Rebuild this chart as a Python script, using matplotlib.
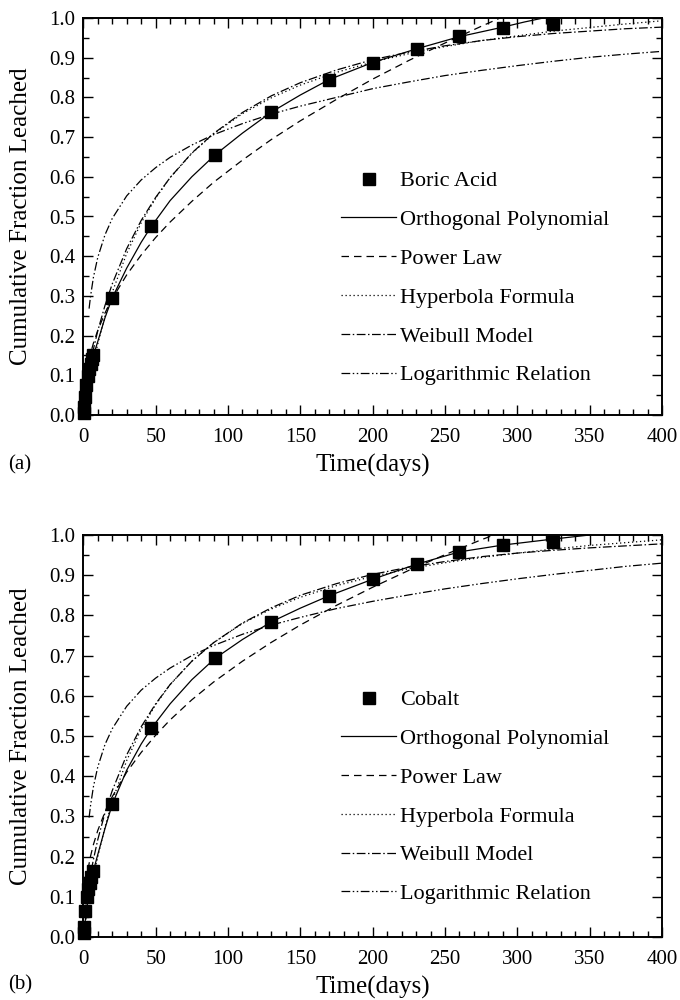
import matplotlib
matplotlib.use("Agg")
import matplotlib.pyplot as plt
from matplotlib.ticker import MultipleLocator, FormatStrFormatter

plt.rcParams['font.family'] = ['Liberation Serif', 'DejaVu Serif']

# ---------------- data: panel (a) Boric Acid ----------------
a_t = [0.3, 0.6, 1, 2, 3, 4, 5, 6, 7, 20, 47, 91, 130, 170, 200, 231, 260, 290, 325]
a_f = [0.005, 0.02, 0.045, 0.075, 0.097, 0.115, 0.128, 0.14, 0.15, 0.295, 0.475, 0.655,
       0.763, 0.843, 0.887, 0.923, 0.954, 0.975, 0.986]

a_poly_t = [0, 2, 4, 7, 10, 15, 20, 30, 40, 47, 60, 75, 91, 110, 130, 150, 170, 200, 231,
            260, 290, 305, 318, 330]
a_poly_f = [0.0, 0.05, 0.10, 0.15, 0.185, 0.245, 0.295, 0.37, 0.435, 0.475, 0.54, 0.60,
            0.655, 0.71, 0.763, 0.806, 0.845, 0.888, 0.923, 0.953, 0.977, 0.99, 1.0, 1.01]

grid_t = [1, 2, 3, 5, 7, 10, 15, 20, 30, 40, 50, 60, 75, 90, 110, 130, 150, 175, 200,
          225, 250, 275, 300, 325, 350, 375, 400]

a_power = [0.074, 0.102, 0.122, 0.155, 0.181, 0.213, 0.257, 0.293, 0.353, 0.403, 0.447,
           0.486, 0.538, 0.586, 0.642, 0.694, 0.741, 0.795, 0.846, 0.893, 0.937, 0.979,
           1.019, 1.05, 1.08, 1.11, 1.14]
a_hyper = [0.021, 0.041, 0.060, 0.097, 0.132, 0.179, 0.249, 0.309, 0.407, 0.484, 0.546,
           0.598, 0.659, 0.708, 0.759, 0.799, 0.831, 0.863, 0.889, 0.910, 0.928, 0.943,
           0.955, 0.967, 0.976, 0.985, 0.993]
a_weib = [0.041, 0.069, 0.092, 0.132, 0.166, 0.212, 0.276, 0.330, 0.419, 0.490, 0.548,
          0.598, 0.660, 0.709, 0.762, 0.804, 0.837, 0.869, 0.895, 0.914, 0.930, 0.943,
          0.953, 0.961, 0.967, 0.973, 0.977]
log_t = [4, 5, 7, 10, 15, 20, 30, 40, 50, 60, 75, 90, 110, 130, 150, 175, 200, 225, 250,
         275, 300, 325, 350, 375, 400]
a_log = [0.268, 0.299, 0.347, 0.397, 0.454, 0.495, 0.552, 0.592, 0.623, 0.649, 0.680,
         0.706, 0.734, 0.758, 0.778, 0.800, 0.822, 0.839, 0.855, 0.868, 0.880, 0.891,
         0.901, 0.909, 0.916]

# ---------------- data: panel (b) Cobalt ----------------
b_t = [0.3, 0.6, 1.5, 2.5, 3.5, 4.5, 5.5, 7, 20, 47, 91, 130, 170, 200, 231, 260, 290, 325]
b_f = [0.01, 0.025, 0.065, 0.10, 0.12, 0.135, 0.15, 0.165, 0.33, 0.519, 0.693, 0.784,
       0.849, 0.890, 0.928, 0.958, 0.975, 0.982]

b_poly_t = [0, 2, 4, 7, 10, 15, 20, 30, 40, 47, 60, 75, 91, 110, 130, 150, 170, 200, 231,
            260, 290, 325, 350, 360]
b_poly_f = [0.0, 0.06, 0.11, 0.165, 0.205, 0.27, 0.33, 0.415, 0.48, 0.519, 0.58, 0.64,
            0.693, 0.74, 0.784, 0.818, 0.849, 0.89, 0.928, 0.958, 0.975, 0.99, 1.0, 1.005]
b_power = [0.106, 0.140, 0.164, 0.201, 0.230, 0.265, 0.311, 0.349, 0.410, 0.459, 0.502,
           0.540, 0.590, 0.634, 0.686, 0.733, 0.776, 0.825, 0.870, 0.912, 0.951, 0.988,
           1.022, 1.05, 1.08, 1.11, 1.14]
b_hyper = [0.024, 0.047, 0.069, 0.110, 0.148, 0.200, 0.274, 0.338, 0.439, 0.517, 0.578,
           0.628, 0.686, 0.732, 0.780, 0.816, 0.845, 0.874, 0.897, 0.916, 0.931, 0.944,
           0.955, 0.965, 0.974, 0.981, 0.988]
b_weib = [0.053, 0.085, 0.111, 0.156, 0.193, 0.242, 0.309, 0.364, 0.453, 0.523, 0.580,
          0.628, 0.686, 0.732, 0.781, 0.819, 0.850, 0.879, 0.902, 0.920, 0.934, 0.946,
          0.955, 0.962, 0.968, 0.973, 0.978]
b_log = [0.297, 0.327, 0.374, 0.423, 0.479, 0.518, 0.574, 0.614, 0.644, 0.669, 0.700,
         0.725, 0.753, 0.776, 0.795, 0.817, 0.835, 0.851, 0.866, 0.879, 0.891, 0.902,
         0.912, 0.922, 0.930]

legend_labels = ["Orthogonal Polynomial", "Power Law", "Hyperbola Formula",
                 "Weibull Model", "Logarithmic Relation"]
xticks = [0, 50, 100, 150, 200, 250, 300, 350, 400]

fig = plt.figure(figsize=(6.8, 10), dpi=100)
ax1 = fig.add_axes([0.1225, 0.585, 0.851, 0.397])
ax2 = fig.add_axes([0.1225, 0.063, 0.851, 0.402])

styles = {
    'poly': dict(color='black', lw=0.9, ls='-'),
    'power': dict(color='black', lw=0.9, ls=(0, (6, 4))),
    'hyper': dict(color='black', lw=0.9, ls=(0, (1, 2.2))),
    'weib': dict(color='black', lw=0.9, ls=(0, (7, 2, 1.2, 2))),
    'log': dict(color='black', lw=0.9, ls=(0, (7, 2, 1.2, 2, 1.2, 2))),
}


def panel(ax, name, t, f, pt, pf, pw, hy, wb, lg, letter, letter_y):
    h0, = ax.plot(t, f, 's', color='black', ms=8, ls='none', clip_on=False, zorder=5,
                  label=name)
    h1, = ax.plot(pt, pf, label=legend_labels[0], **styles['poly'])
    h2, = ax.plot(grid_t, pw, label=legend_labels[1], **styles['power'])
    h3, = ax.plot(grid_t, hy, label=legend_labels[2], **styles['hyper'])
    h4, = ax.plot(grid_t, wb, label=legend_labels[3], **styles['weib'])
    h5, = ax.plot(log_t, lg, label=legend_labels[4], **styles['log'])
    ax.set_xlim(0, 400)
    ax.set_ylim(0, 1.0)
    ax.xaxis.set_major_locator(MultipleLocator(50))
    ax.xaxis.set_minor_locator(MultipleLocator(10))
    ax.yaxis.set_major_locator(MultipleLocator(0.1))
    ax.yaxis.set_minor_locator(MultipleLocator(0.05))
    ax.yaxis.set_major_formatter(FormatStrFormatter('%.1f'))
    ax.set_xticks(xticks)
    ax.tick_params(which='both', direction='in', top=True, right=True, labelsize=15,
                   width=1.0)
    ax.tick_params(which='major', length=7)
    ax.tick_params(axis='x', which='major', pad=9)
    ax.tick_params(axis='y', which='major', pad=6)
    ax.tick_params(which='minor', length=4)
    for s in ax.spines.values():
        s.set_linewidth(1.4)
    ax.set_xlabel('Time(days)', fontsize=18, labelpad=5)
    ax.set_ylabel('Cumulative Fraction Leached', fontsize=18, labelpad=12)
    ax.legend(handles=[h0, h1, h2, h3, h4, h5], loc='upper left',
              bbox_to_anchor=(0.445, 0.615), frameon=False, fontsize=16,
              handlelength=2.5, handletextpad=0.15, labelspacing=0.82,
              borderpad=0, borderaxespad=0)
    ax.text(-0.13, letter_y, letter, transform=ax.transAxes, fontsize=15,
            ha='left', va='center')


panel(ax1, 'Boric Acid', a_t, a_f, a_poly_t, a_poly_f, a_power, a_hyper, a_weib, a_log,
      '(a)', -0.126)
panel(ax2, 'Cobalt', b_t, b_f, b_poly_t, b_poly_f, b_power, b_hyper, b_weib, b_log,
      '(b)', -0.119)

fig.savefig('out.png', dpi=100)
